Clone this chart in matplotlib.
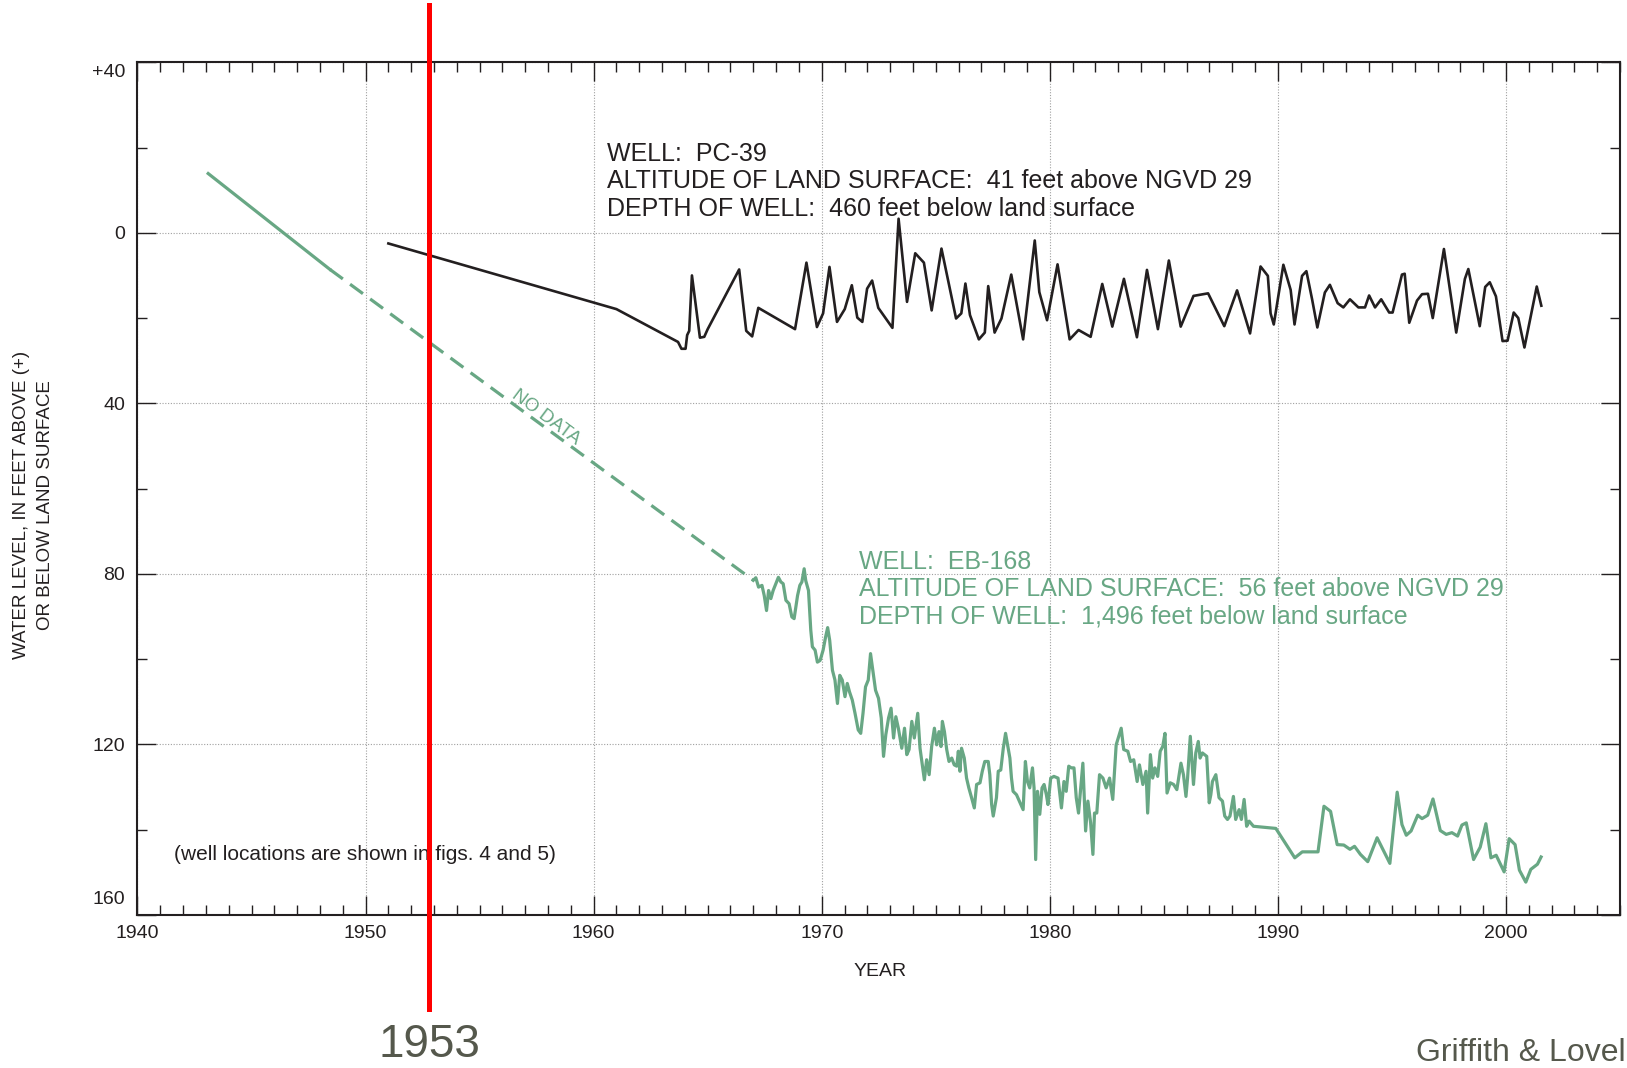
import numpy as np
import matplotlib.pyplot as plt
import matplotlib.transforms as mtransforms
from matplotlib import font_manager

# polices disponibles
noms = {f.name for f in font_manager.fontManager.ttflist}
police = 'Liberation Sans' if 'Liberation Sans' in noms else 'DejaVu Sans'
etroite = 'Liberation Sans Narrow' if 'Liberation Sans Narrow' in noms else police
plt.rcParams['font.family'] = [police, 'DejaVu Sans']

# Puits PC-39 (annee, profondeur en pieds sous le sol)
pc39_annee = [1951.0, 1961.0, 1963.70, 1963.85, 1964.03, 1964.10, 1964.19, 1964.31, 1964.66, 1964.85,
              1965.0, 1966.38, 1966.69, 1966.95, 1967.22, 1968.83, 1969.33, 1969.79, 1970.06, 1970.34,
              1970.67, 1971.01, 1971.32, 1971.56, 1971.78, 1971.99, 1972.21, 1972.48, 1973.10, 1973.37,
              1973.74, 1974.10, 1974.48, 1974.82, 1975.25, 1975.89, 1976.12, 1976.30, 1976.50, 1976.89,
              1977.15, 1977.30, 1977.58, 1977.88, 1978.31, 1978.83, 1979.34, 1979.54, 1979.88, 1980.34,
              1980.87, 1981.26, 1981.79, 1982.30, 1982.74, 1983.25, 1983.82, 1984.26, 1984.74, 1985.22,
              1985.74, 1986.30, 1986.94, 1987.65, 1988.21, 1988.78, 1989.24, 1989.56, 1989.68, 1989.82,
              1990.24, 1990.56, 1990.73, 1991.06, 1991.25, 1991.50, 1991.73, 1992.06, 1992.28, 1992.62,
              1992.87, 1993.16, 1993.53, 1993.82, 1994.00, 1994.26, 1994.53, 1994.88, 1995.03, 1995.44,
              1995.56, 1995.76, 1996.10, 1996.32, 1996.58, 1996.79, 1997.28, 1997.82, 1998.20, 1998.35,
              1998.85, 1999.09, 1999.29, 1999.56, 1999.85, 2000.07, 2000.34, 2000.54, 2000.81, 2001.35,
              2001.55]
pc39_niveau = [2.5, 17.9, 25.6, 27.2, 27.2, 24.0, 23.0, 10.0, 24.6, 24.4,
               22.6, 8.6, 23.0, 24.3, 17.6, 22.6, 7.0, 22.1, 18.9, 8.0,
               20.9, 17.9, 12.3, 19.9, 20.9, 13.1, 11.2, 17.6, 22.3, -3.3,
               16.2, 4.8, 7.0, 18.2, 3.7, 20.1, 18.9, 11.9, 19.3, 25.0,
               23.4, 12.5, 23.4, 20.1, 9.8, 25.0, 1.8, 13.9, 20.5, 7.4,
               25.0, 22.8, 24.4, 12.0, 22.0, 10.8, 24.5, 8.7, 22.6, 6.5,
               22.0, 14.8, 14.2, 21.9, 13.5, 23.6, 7.9, 10.1, 18.9, 21.5,
               7.5, 13.4, 21.5, 10.1, 9.0, 15.6, 22.2, 14.0, 12.2, 16.5,
               17.5, 15.6, 17.5, 17.5, 14.7, 17.5, 15.6, 18.7, 18.7, 9.8,
               9.6, 21.1, 15.9, 14.4, 14.3, 20.0, 3.8, 23.4, 10.8, 8.5,
               21.9, 12.7, 11.6, 14.9, 25.4, 25.3, 18.7, 20.0, 26.9, 12.6,
               17.1]

# Puits EB-168 : parties extrapolees
eb_trait_annee = [1943.1, 1948.44]
eb_trait_niveau = [-13.9, 8.6]
eb_tirets_annee = [1948.44, 1967.0]
eb_tirets_niveau = [8.6, 81.5]

# Puits EB-168 : mesures
eb_annee = [1967.00, 1967.11, 1967.23, 1967.38, 1967.48, 1967.58, 1967.67, 1967.77, 1967.87, 1967.99,
            1968.10, 1968.21, 1968.31, 1968.43, 1968.57, 1968.69, 1968.79, 1968.94, 1969.04, 1969.13,
            1969.23, 1969.30, 1969.42, 1969.52, 1969.59, 1969.71, 1969.81, 1969.93, 1970.06, 1970.17,
            1970.26, 1970.35, 1970.47, 1970.58, 1970.69, 1970.79, 1970.90, 1971.02, 1971.12, 1971.22,
            1971.34, 1971.46, 1971.60, 1971.71, 1971.81, 1971.92, 1972.04, 1972.14, 1972.24, 1972.36,
            1972.49, 1972.61, 1972.71, 1972.81, 1972.93, 1973.04, 1973.15, 1973.25, 1973.36, 1973.51,
            1973.63, 1973.73, 1973.83, 1973.95, 1974.06, 1974.21, 1974.31, 1974.41, 1974.50, 1974.60,
            1974.71, 1974.82, 1974.94, 1975.04, 1975.14, 1975.23, 1975.29, 1975.38, 1975.48, 1975.58,
            1975.70, 1975.81, 1975.92, 1975.99, 1976.06, 1976.13, 1976.25, 1976.35, 1976.45, 1976.57,
            1976.69, 1976.79, 1976.94, 1977.04, 1977.15, 1977.30, 1977.37, 1977.45, 1977.52, 1977.66,
            1977.74, 1977.85, 1977.96, 1978.06, 1978.15, 1978.25, 1978.32, 1978.39, 1978.54, 1978.83,
            1978.93, 1979.02, 1979.12, 1979.24, 1979.31, 1979.38, 1979.46, 1979.56, 1979.66, 1979.75,
            1979.85, 1979.92, 1980.04, 1980.18, 1980.36, 1980.51, 1980.62, 1980.72, 1980.83, 1980.94,
            1981.06, 1981.16, 1981.26, 1981.45, 1981.57, 1981.67, 1981.79, 1981.89, 1981.96, 1982.06,
            1982.18, 1982.33, 1982.47, 1982.62, 1982.76, 1982.91, 1983.13, 1983.24, 1983.42, 1983.54,
            1983.68, 1983.83, 1983.93, 1984.08, 1984.22, 1984.29, 1984.41, 1984.51, 1984.61, 1984.73,
            1984.84, 1984.95, 1985.05, 1985.14, 1985.28, 1985.43, 1985.57, 1985.75, 1985.86, 1985.97,
            1986.04, 1986.16, 1986.30, 1986.40, 1986.51, 1986.59, 1986.69, 1986.88, 1986.99, 1987.06,
            1987.13, 1987.28, 1987.42, 1987.57, 1987.67, 1987.79, 1987.90, 1988.05, 1988.15, 1988.30,
            1988.40, 1988.52, 1988.63, 1988.74, 1988.93, 1989.91, 1990.74, 1991.07, 1991.76, 1992.02,
            1992.31, 1992.60, 1992.89, 1993.16, 1993.36, 1993.62, 1993.94, 1994.35, 1994.91, 1995.23,
            1995.44, 1995.63, 1995.84, 1996.13, 1996.32, 1996.57, 1996.80, 1997.12, 1997.38, 1997.63,
            1997.88, 1998.07, 1998.26, 1998.58, 1998.87, 1999.12, 1999.34, 1999.57, 1999.92, 2000.14,
            2000.40, 2000.59, 2000.87, 2001.09, 2001.38, 2001.54]
eb_niveau = [81.5, 80.9, 83.1, 82.7, 85.1, 88.6, 83.9, 85.8, 83.9, 82.3,
             80.8, 81.9, 82.3, 86.2, 87.0, 90.1, 90.5, 85.1, 82.7, 81.9,
             78.8, 81.6, 83.9, 93.2, 97.1, 97.9, 100.7, 100.3, 97.9, 94.8,
             92.6, 95.6, 102.6, 104.9, 110.4, 103.8, 104.9, 108.8, 105.7, 107.7,
             109.6, 112.7, 116.6, 117.4, 112.7, 106.5, 104.9, 98.7, 102.6, 107.3,
             109.2, 113.8, 122.8, 117.7, 113.8, 111.5, 118.5, 113.5, 116.2, 120.9,
             116.2, 122.4, 121.2, 114.6, 118.5, 112.7, 120.9, 124.8, 128.3, 123.6,
             127.1, 120.5, 116.2, 120.1, 117.0, 120.5, 114.6, 117.0, 121.2, 124.0,
             123.2, 124.8, 125.1, 121.6, 126.3, 120.9, 123.2, 127.9, 130.2, 132.5,
             134.9, 129.4, 129.0, 126.3, 124.0, 124.0, 127.1, 134.1, 136.8, 132.5,
             126.3, 126.0, 120.9, 117.4, 120.1, 123.2, 127.9, 131.0, 131.8, 135.3,
             124.0, 128.7, 130.2, 125.5, 130.2, 147.0, 131.0, 136.4, 130.2, 129.4,
             131.8, 134.1, 127.9, 127.5, 127.9, 134.9, 128.7, 131.0, 125.1, 125.5,
             125.5, 132.5, 136.1, 124.4, 140.3, 133.3, 138.4, 145.8, 136.1, 136.1,
             127.1, 127.9, 130.2, 127.9, 132.9, 120.1, 116.2, 121.2, 121.6, 124.0,
             123.6, 128.7, 124.8, 129.4, 126.3, 136.1, 122.4, 127.9, 125.5, 127.5,
             121.6, 120.5, 117.4, 131.4, 129.0, 129.4, 130.6, 124.4, 127.1, 132.2,
             127.9, 118.1, 129.4, 122.0, 119.3, 123.2, 122.0, 122.8, 133.7, 131.8,
             128.7, 127.1, 132.5, 133.3, 136.8, 137.6, 136.8, 132.2, 137.6, 135.3,
             137.6, 132.9, 139.2, 138.0, 139.2, 139.7, 146.6, 145.2, 145.2, 134.5,
             135.7, 143.5, 143.6, 144.6, 143.9, 145.8, 147.5, 141.9, 147.9, 131.2,
             138.8, 141.3, 140.3, 136.6, 137.4, 136.6, 132.8, 140.2, 141.1, 140.7,
             141.5, 138.9, 138.4, 147.0, 144.1, 138.6, 146.6, 146.0, 149.9, 142.1,
             143.5, 149.5, 152.3, 149.3, 148.1, 146.4]

# graduations
annees_maj = [1940, 1950, 1960, 1970, 1980, 1990, 2000]
annees_min = list(range(1940, 2006))
niveaux_maj = [-40, 0, 40, 80, 120, 160]
niveaux_etiq = ['+40', '0', '40', '80', '120', '160']
niveaux_min = [-20, 20, 60, 100, 140]

noir = '#231f20'
vert = '#68a784'

fig = plt.figure(figsize=(16.27, 10.68), dpi=100)
ax = fig.add_axes([0.0845, 0.1433, 0.9112, 0.7984])

ax.plot(pc39_annee, pc39_niveau, color=noir, lw=1.9)
ax.plot(eb_trait_annee, eb_trait_niveau, color=vert, lw=2.3)
ax.plot(eb_tirets_annee, eb_tirets_niveau, color=vert, lw=2.3, dashes=(5, 2.8))
ax.plot(eb_annee, eb_niveau, color=vert, lw=2.3)

ax.set_xlim(1940, 2005)
ax.set_ylim(160, -40)
ax.set_xticks(annees_maj)
ax.set_xticks(annees_min, minor=True)
ax.set_yticks(niveaux_maj)
ax.set_yticklabels(niveaux_etiq)
ax.set_yticks(niveaux_min, minor=True)
ax.tick_params(which='both', direction='in', top=True, right=True, colors=noir, width=1.0)
ax.tick_params(which='major', length=14, labelsize=14)
ax.tick_params(which='minor', length=7.5)
ax.tick_params(axis='x', pad=7)
ax.tick_params(axis='y', pad=9)
for s in ax.spines.values():
    s.set_linewidth(1.5)
    s.set_color(noir)
ax.grid(True, which='major', ls=(0, (1, 1.5)), color='#a0a0a0', lw=0.8)

# decaler les etiquettes extremes vers l'interieur
labs = ax.get_yticklabels()
labs[0].set_transform(labs[0].get_transform() + mtransforms.ScaledTranslation(0, -8 / 100, fig.dpi_scale_trans))
labs[-1].set_transform(labs[-1].get_transform() + mtransforms.ScaledTranslation(0, 17 / 100, fig.dpi_scale_trans))

fig.text(0.541, 0.090, 'YEAR', ha='center', va='center', fontsize=14, color=noir)
fig.text(0.0205, 0.527, 'WATER LEVEL, IN FEET ABOVE (+)\nOR BELOW LAND SURFACE', rotation=90,
         ha='center', va='center', multialignment='center', fontsize=13.5, color=noir, linespacing=1.5)

# textes des puits
ax.text(1960.57, -18.6, 'WELL:  PC-39', color=noir, fontsize=18, va='center')
ax.text(1960.57, -12.1, 'ALTITUDE OF LAND SURFACE:  41 feet above NGVD 29', color=noir, fontsize=18, va='center')
ax.text(1960.57, -5.5, 'DEPTH OF WELL:  460 feet below land surface', color=noir, fontsize=18, va='center')
ax.text(1971.63, 77.2, 'WELL:  EB-168', color=vert, fontsize=18, va='center')
ax.text(1971.63, 83.6, 'ALTITUDE OF LAND SURFACE:  56 feet above NGVD 29', color=vert, fontsize=18, va='center')
ax.text(1971.63, 90.1, 'DEPTH OF WELL:  1,496 feet below land surface', color=vert, fontsize=18, va='center')
ax.text(1957.9, 43.4, 'NO DATA', color=vert, fontsize=13.5, rotation=-36.7, rotation_mode='anchor',
        ha='center', va='center')
ax.text(1941.6, 145.9, '(well locations are shown in figs. 4 and 5)', color=noir, fontsize=15,
        va='center', family=[etroite, 'DejaVu Sans'])

# ligne rouge 1953
trans = mtransforms.blended_transform_factory(ax.transData, fig.transFigure)
ax.plot([1952.8, 1952.8], [0.9953, 0.0552], color='#ff0000', lw=3.6, transform=trans, clip_on=False, zorder=10)
ax.text(1952.8, 0.0215, '1953', transform=trans, ha='center', va='center', fontsize=33,
        color='#55584c', family=[etroite, 'DejaVu Sans'])
fig.text(0.8703, 0.014, 'Griffith & Loveland', ha='left', va='center', fontsize=23,
         color='#55584c', family=[etroite, 'DejaVu Sans'])

fig.savefig('out.png', dpi=100)
